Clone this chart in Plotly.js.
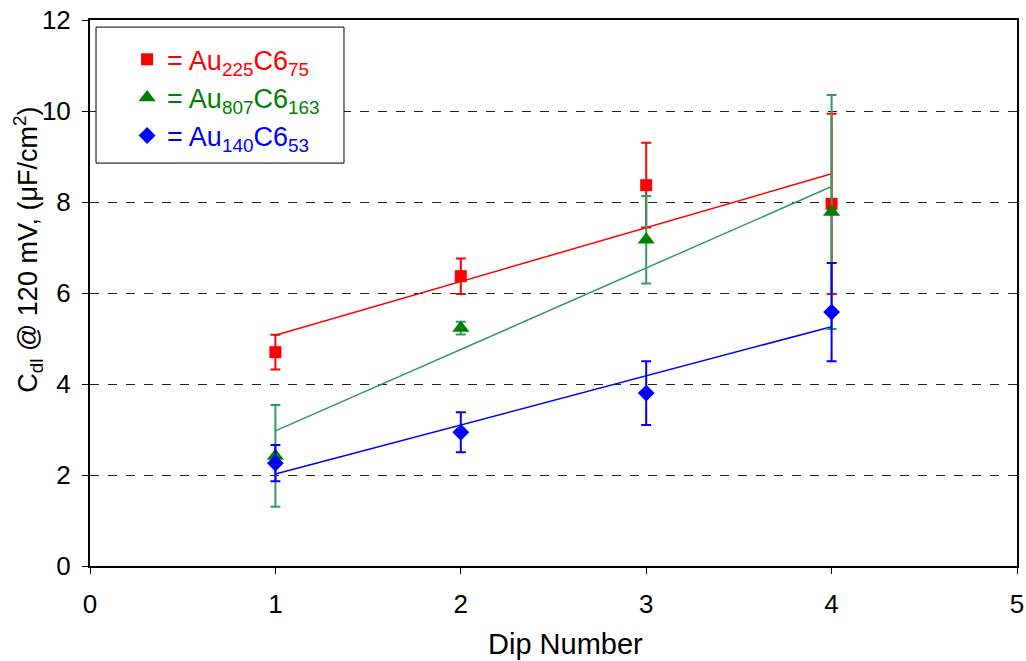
<!DOCTYPE html>
<html><head><meta charset="utf-8">
<script src="https://cdn.plot.ly/plotly-3.0.1.min.js"></script>
<style>html,body{margin:0;padding:0;background:#fff}</style>
</head><body><div id="chart" style="width:1026px;height:661px"></div>
<script>
const dips = [1, 2, 3, 4];
const au225 = [4.70, 6.37, 8.37, 7.96];
const au225Err = [0.38, 0.39, 0.93, 1.98];
const au807 = [2.42, 5.23, 7.17, 7.78];
const au807Err = [1.12, 0.14, 0.96, 2.57];
const au140 = [2.26, 2.94, 3.80, 5.58];
const au140Err = [0.40, 0.44, 0.70, 1.08];
const fitX = [1, 4];
const au225Fit = [5.07, 8.62];
const au807Fit = [2.97, 8.34];
const au140Fit = [2.02, 5.26];
const xTicks = [0, 1, 2, 3, 4, 5];
const yTicks = [0, 2, 4, 6, 8, 10, 12];

const FONT = 'Liberation Sans, Arial, sans-serif';
const RED = '#ff0000', GREEN = '#008000', GREEN_L = '#339966', BLUE = '#0000ff';

const traces = [
  {x: fitX, y: au225Fit, mode: 'lines', line: {color: RED, width: 1.5}, showlegend: false, hoverinfo: 'skip'},
  {x: fitX, y: au807Fit, mode: 'lines', line: {color: GREEN_L, width: 1.5}, showlegend: false, hoverinfo: 'skip'},
  {x: fitX, y: au140Fit, mode: 'lines', line: {color: BLUE, width: 1.5}, showlegend: false, hoverinfo: 'skip'},
  {x: dips, y: au225, mode: 'markers', name: '<span style="color:#ff0000">= Au<sub>225</sub>C6<sub>75</sub></span>',
   marker: {symbol: 'square', size: 12, color: RED},
   error_y: {type: 'data', array: au225Err, visible: true, color: RED, thickness: 2, width: 5}},
  {x: dips, y: au807, mode: 'markers', name: '<span style="color:#008000">= Au<sub>807</sub>C6<sub>163</sub></span>',
   marker: {symbol: 'triangle-up', size: 15, color: GREEN},
   error_y: {type: 'data', array: au807Err, visible: true, color: GREEN_L, thickness: 2, width: 5}},
  {x: dips, y: au140, mode: 'markers', name: '<span style="color:#0000ff">= Au<sub>140</sub>C6<sub>53</sub></span>',
   marker: {symbol: 'diamond', size: 13, color: BLUE},
   error_y: {type: 'data', array: au140Err, visible: true, color: BLUE, thickness: 2, width: 5}}
];

const layout = {
  width: 1026, height: 661,
  margin: {l: 90, r: 9, t: 20, b: 95},
  paper_bgcolor: '#fff', plot_bgcolor: '#fff',
  font: {family: FONT, color: '#000', size: 26},
  showlegend: true,
  legend: {x: 0.040, y: 0.972, xanchor: 'left', yanchor: 'top', bgcolor: 'rgba(0,0,0,0)',
           borderwidth: 0, font: {family: FONT, size: 27}, itemsizing: 'trace', tracegroupgap: 0},
  shapes: [
    {type: 'rect', xref: 'paper', yref: 'paper', x0: 0.0065, x1: 0.274, y0: 0.738, y1: 0.987,
     line: {color: '#000', width: 1}, fillcolor: '#fff', layer: 'above'}
  ],
  annotations: [
    {text: 'Dip Number', xref: 'paper', yref: 'paper', x: 0.513, y: -0.143, xanchor: 'center', yanchor: 'middle',
     showarrow: false, font: {family: FONT, size: 29, color: '#000'}},
    {text: 'C<sub>dl</sub> @ 120 mV, (μF/cm<sup>2</sup>)', xref: 'paper', yref: 'paper', x: -0.067, y: 0.579,
     xanchor: 'center', yanchor: 'middle', textangle: -90, showarrow: false,
     font: {family: FONT, size: 27, color: '#000'}}
  ],
  xaxis: {range: [0, 5], tickvals: xTicks, ticktext: xTicks.map(String), ticks: 'outside', ticklen: 6,
          tickcolor: '#000', showline: true, linecolor: '#000', linewidth: 2, mirror: true,
          showgrid: false, zeroline: false, tickfont: {size: 26}, ticklabelstandoff: 8},
  yaxis: {range: [0, 12], tickvals: yTicks, ticktext: yTicks.map(String), ticks: 'outside', ticklen: 6,
          tickcolor: '#000', showline: true, linecolor: '#000', linewidth: 2, mirror: true,
          showgrid: true, gridcolor: '#222', griddash: 'dash', gridwidth: 1, zeroline: false,
          tickfont: {size: 26}, ticklabelstandoff: 6}
};

Plotly.newPlot('chart', traces, layout, {displayModeBar: false, staticPlot: true});
</script></body></html>
